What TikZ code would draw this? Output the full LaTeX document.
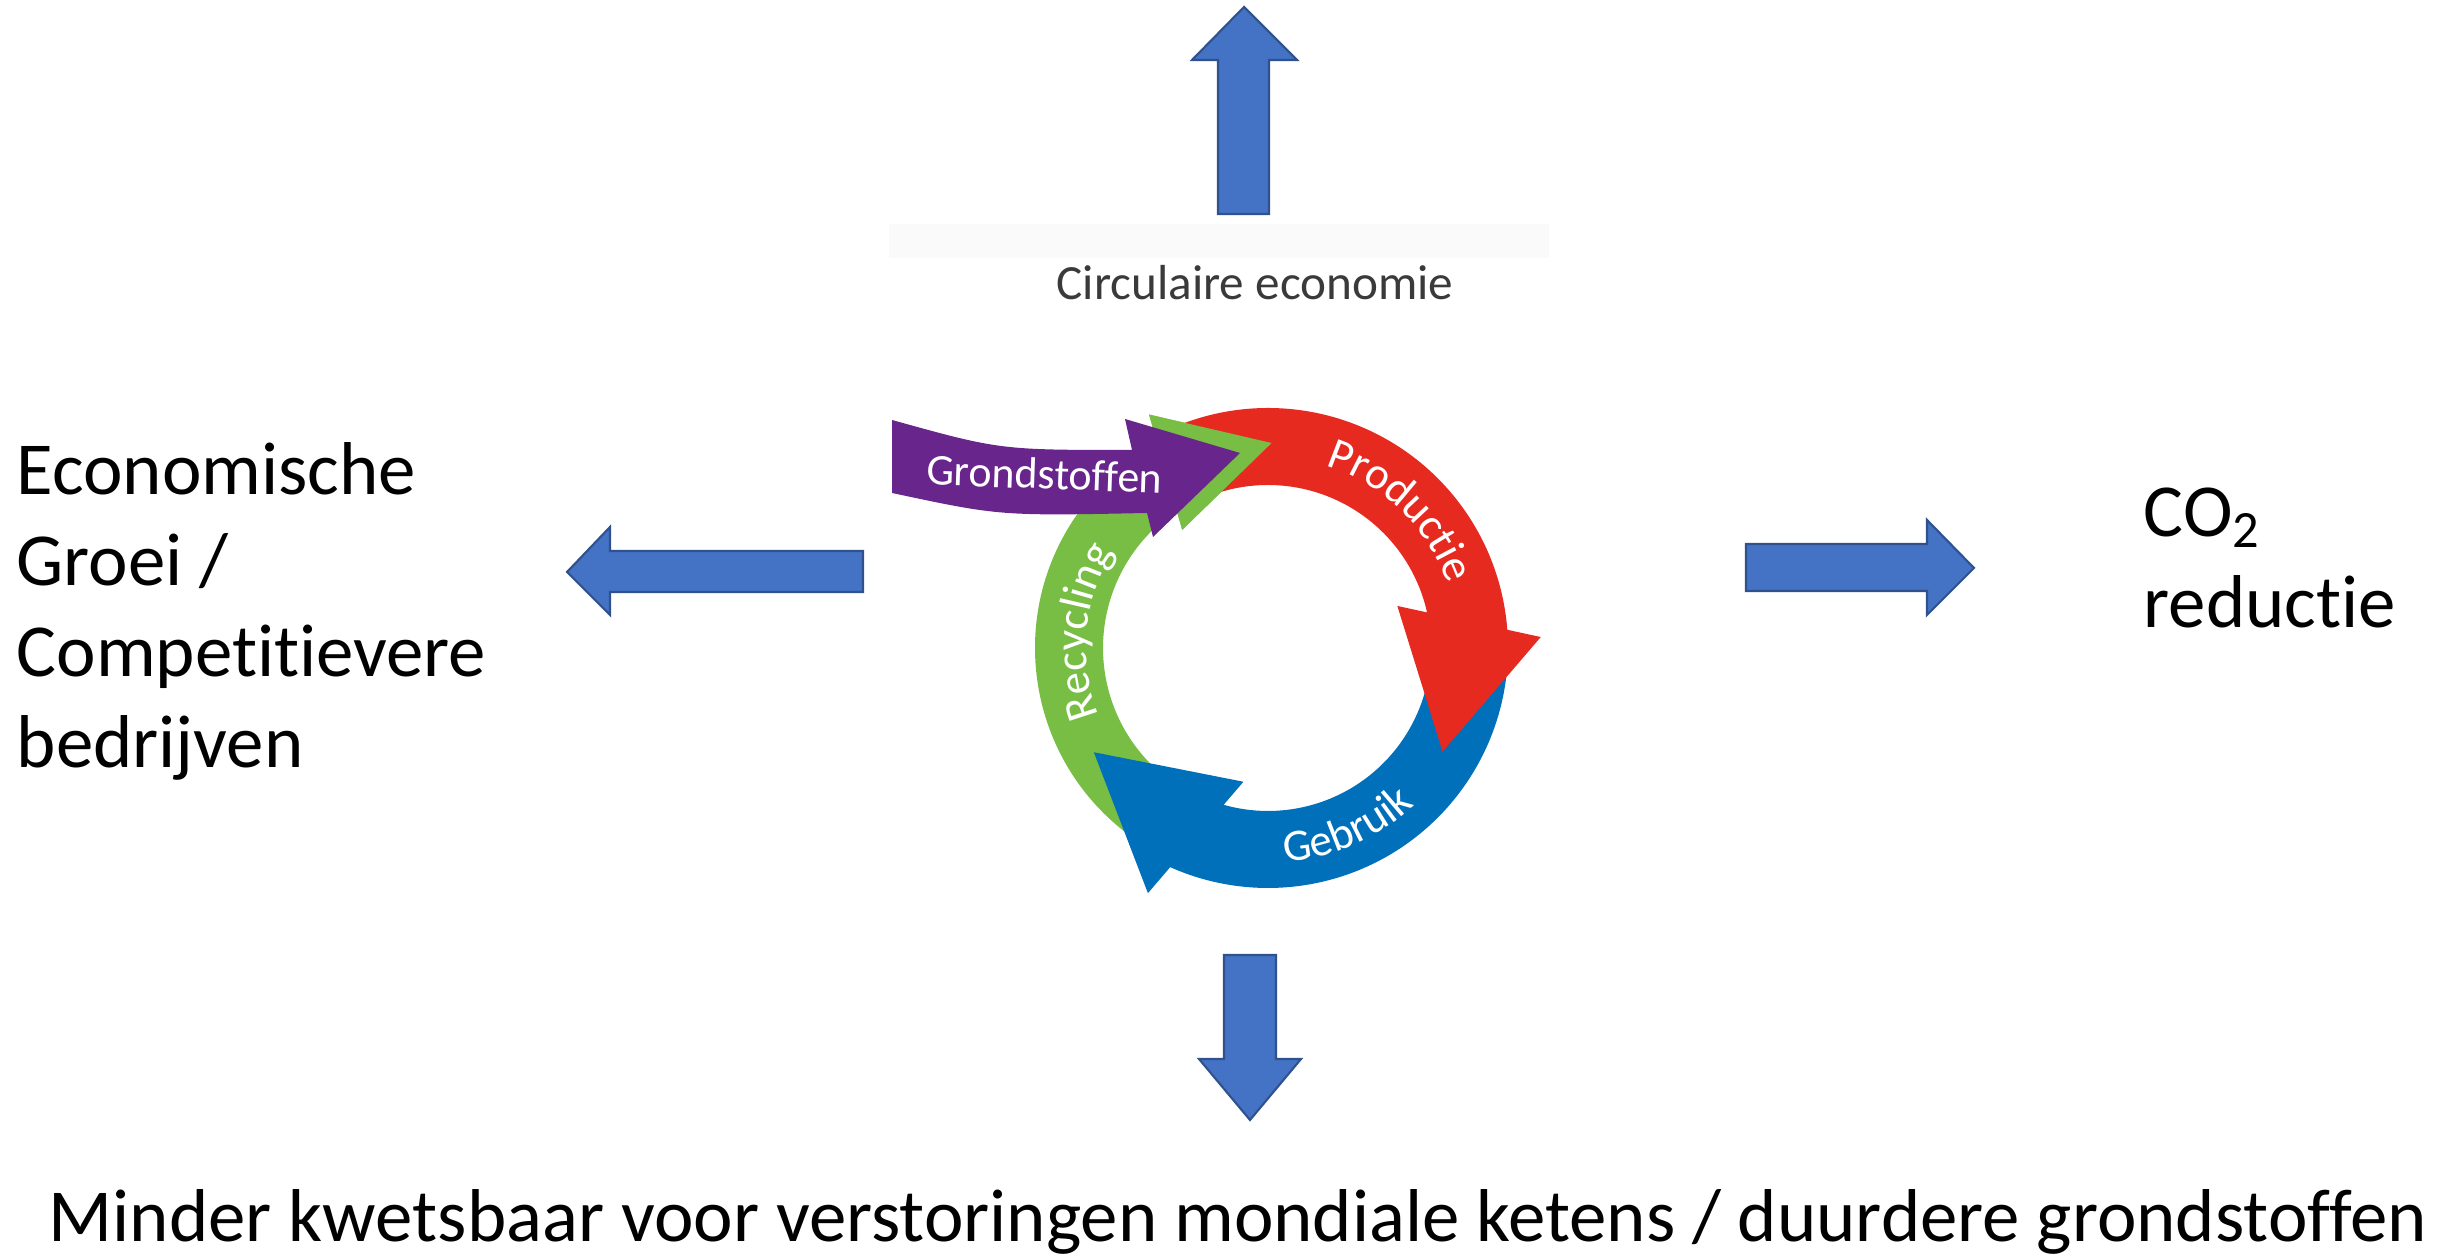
\documentclass[tikz,border=0pt]{standalone}
\usepackage{fontspec}
\setmainfont{Carlito}[Ligatures=NoCommon]
\usetikzlibrary{decorations.text}
\definecolor{blockblue}{HTML}{4472C4}
\definecolor{blockedge}{HTML}{2F528F}
\definecolor{grondpurple}{HTML}{68268D}
\definecolor{prodred}{HTML}{E62A20}
\definecolor{gebrblue}{HTML}{0070BA}
\definecolor{recygreen}{HTML}{78BE44}
\definecolor{cegrey}{HTML}{3A3A3A}
\definecolor{bandgrey}{HTML}{FAFAFA}
\begin{document}
\begin{tikzpicture}[
	blockarrow/.style={fill=blockblue, draw=blockedge, line width=0.6pt, line join=miter},
	bigtext/.style={font=\fontsize{21.3}{25.9}\selectfont, inner sep=0pt},
	ringlabel/.style={font=\fontsize{12.5}{15}\selectfont, text=white, inner sep=0pt},
	ringtext/.style={decorate, decoration={text along path, text align=center,
		text={|\fontsize{12.8}{15}\selectfont\color{white}|#1}}}
]
	\useasboundingbox (0,0) rectangle (24.53,12.59);
	\draw[blockarrow] (12.18,10.45) --++ (0,1.54) --++ (-0.26,0) --++ (0.52,0.53) --++ (0.53,-0.53) --++ (-0.28,0) --++ (0,-1.54) -- cycle;
	\draw[blockarrow] (12.24,3.04) --++ (0,-1.04) --++ (-0.25,0) --++ (0.51,-0.61) --++ (0.51,0.61) --++ (-0.25,0) --++ (0,1.04) -- cycle;
	\draw[blockarrow] (8.63,7.08) --++ (-2.53,0) --++ (0,0.24) --++ (-0.43,-0.45) --++ (0.43,-0.43) --++ (0,0.23) --++ (2.53,0) -- cycle;
	\draw[blockarrow] (17.46,7.15) --++ (1.81,0) --++ (0,0.24) --++ (0.47,-0.48) --++ (-0.47,-0.47) --++ (0,0.24) --++ (-1.81,0) -- cycle;
	\fill[bandgrey] (8.89,10.01) rectangle (15.49,10.35);
	\node[font=\fontsize{14}{17}\selectfont, text=cegrey, inner sep=0pt, anchor=base] (circ) at (12.55,9.59) {Circulaire economie};
	\begin{scope}[shift={(12.68,6.11)}]
		\fill[recygreen] (-126:2.33) arc[start angle=-126, end angle=-241.6, radius=2.33] -- (117:2.62) -- (89:2.05) -- (126:1.46) -- (123.6:1.65) arc[start angle=123.6, end angle=227, radius=1.65] -- cycle;
		\fill[gebrblue] (-5:2.40) arc[start angle=-5, end angle=-114.05, radius=2.40] -- (-116.1:2.73) -- (-149.1:2.03) -- (-100.4:1.36) -- (-105.8:1.63) arc[start angle=-105.8, end angle=-14, radius=1.63] -- cycle;
		\fill[prodred] (112:2.40) arc[start angle=112, end angle=4.35, radius=2.40] -- (2.3:2.73) -- (-30.7:2.03) -- (18:1.36) -- (12.6:1.63) arc[start angle=12.6, end angle=112, radius=1.63] -- cycle;
		\fill[recygreen] (117:2.62) -- (89:2.05) -- (126:1.46) -- cycle;
		\path[ringtext=Productie] (78:1.91) arc[start angle=78, end angle=14, radius=1.91];
		\path[ringtext=Gebruik] (-101:2.15) arc[start angle=-101, end angle=-31, radius=2.15];
		\path[ringtext=Recycling] (205:1.82) arc[start angle=205, end angle=145, radius=1.82];
	\end{scope}
	\fill[grondpurple] (8.92,8.39) .. controls (10.00,8.09) .. (11.32,8.09) -- (11.25,8.40) -- (12.40,8.06) -- (11.53,7.22) -- (11.47,7.46) .. controls (10.00,7.43) .. (8.92,7.66) -- cycle;
	\node[ringlabel, rotate=-2, anchor=base] (grond) at (10.44,7.70) {Grondstoffen};
	\node[bigtext, align=left, anchor=base west] (groei) at (0.16,4.91) {Economische\\Groei /\\Competitievere\\bedrijven};
	\node[bigtext, align=left, anchor=base west] (co2) at (21.43,6.31) {CO\textsubscript{2}\\reductie};
	\node[bigtext, anchor=base] (keten) at (12.38,0.17) {Minder kwetsbaar voor verstoringen mondiale ketens / duurdere grondstoffen};
\end{tikzpicture}
\end{document}
